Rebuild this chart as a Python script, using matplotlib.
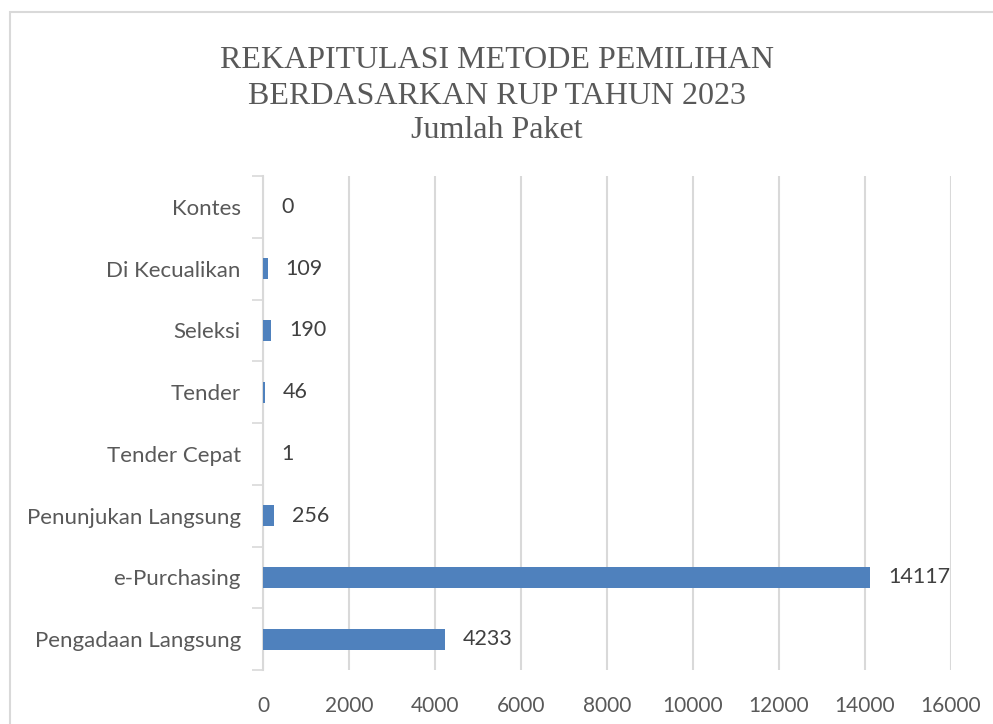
import matplotlib
matplotlib.use("Agg")
import matplotlib.pyplot as plt
from matplotlib.patches import Rectangle
import numpy as np

categories = ["Pengadaan Langsung", "e-Purchasing", "Penunjukan Langsung",
              "Tender Cepat", "Tender", "Seleksi", "Di Kecualikan", "Kontes"]
values = [4233, 14117, 256, 1, 46, 190, 109, 0]
xticks = [0, 2000, 4000, 6000, 8000, 10000, 12000, 14000, 16000]
title_lines = ["REKAPITULASI METODE PEMILIHAN", "BERDASARKAN RUP TAHUN 2023", "Jumlah Paket"]

W, H = 993, 724
fig = plt.figure(figsize=(W / 100, H / 100), dpi=100)
fig.patch.set_facecolor("white")

# outer border
fig.patches.append(Rectangle((9.5 / W, -0.05), 1.2, 1 - 11.5 / H + 0.05,
                             transform=fig.transFigure, fill=False,
                             edgecolor="#D9D9D9", linewidth=1.5))

left, right = 263 / W, 951 / W
top, bottom = 1 - 176 / H, 1 - 670 / H
ax = fig.add_axes([left, bottom, right - left, top - bottom])

y = np.arange(len(categories))
bar_color = "#4F81BD"
ax.barh(y, values, height=0.34, color=bar_color, zorder=3)

ax.set_xlim(0, 16000)
ax.set_ylim(-0.5, len(categories) - 0.5)
ax.set_xticks(xticks)
ax.set_xticklabels([str(t) for t in xticks])
ax.set_yticks(y)
ax.set_yticklabels(categories)

lab_font = "Lato"
for lbl in ax.get_yticklabels():
    lbl.set_fontfamily(lab_font)
    lbl.set_fontsize(16)
    lbl.set_color("#595959")
for lbl in ax.get_xticklabels():
    lbl.set_fontfamily(lab_font)
    lbl.set_fontsize(15)
    lbl.set_color("#595959")
ax.tick_params(axis="y", length=0, pad=16)
ax.tick_params(axis="x", length=0, pad=19)
ax.set_yticks(np.arange(-0.5, len(categories), 1.0), minor=True)
ax.tick_params(axis="y", which="minor", length=8, color="#D9D9D9", width=1.2)

ax.grid(axis="x", color="#D9D9D9", linewidth=1.5, zorder=0)
for s in ["top", "right", "bottom"]:
    ax.spines[s].set_visible(False)
ax.spines["left"].set_color("#D9D9D9")
ax.spines["left"].set_linewidth(1.5)

for yi, v in zip(y, values):
    ax.annotate(str(v), (v, yi), xytext=(13, 0), textcoords="offset points",
                va="center", ha="left", fontsize=15.5, fontfamily=lab_font,
                color="#404040", zorder=4)

ys = [61, 96, 131]
for t, yy in zip(title_lines, ys):
    fig.text(497 / W, 1 - yy / H, t, ha="center", va="center",
             fontsize=23, fontfamily="Liberation Serif", color="#595959")

fig.savefig("out.png", dpi=100, facecolor="white")
